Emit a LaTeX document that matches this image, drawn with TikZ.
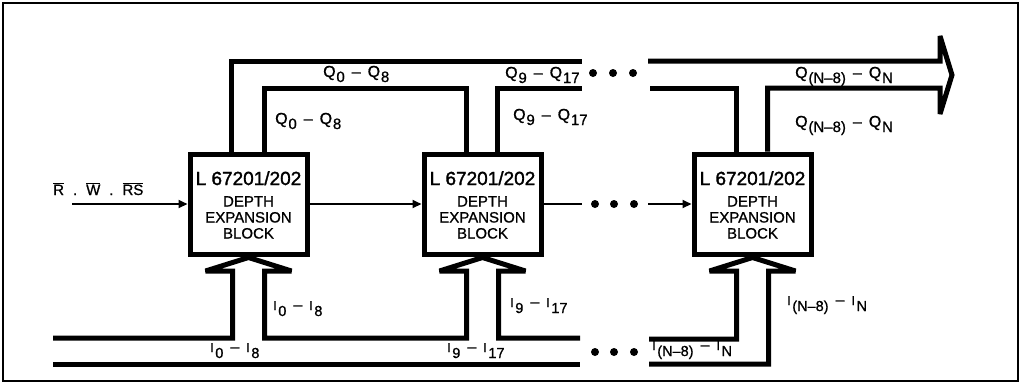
\documentclass[tikz,border=0pt]{standalone}
\usepackage{fontspec}
\setmainfont{Liberation Sans}[FakeBold=0.9]
\newfontfamily\heavy{Liberation Sans}[FakeBold=1.6]
\usetikzlibrary{arrows.meta,calc}
\newcommand\dn[1]{\kern0.8pt\raisebox{-5pt}{\fontsize{15}{15}\selectfont #1}}
\newcommand\Ii[1]{{\fontsize{13}{13}\selectfont I}\kern1.5pt\raisebox{-6pt}{\fontsize{14.5}{15}\selectfont #1}}
\newcommand\ob[1]{$\overline{\mbox{#1}}$}
\newcommand\gap{\hspace{7pt}}
\begin{document}
\begin{tikzpicture}[x=1pt,y=-1pt,
  bus/.style={line width=5pt,line join=miter,miter limit=3},
  blk/.style={draw,line width=5pt,minimum width=117pt,minimum height=100pt,inner sep=0pt},
  ttl/.style={anchor=base,font=\heavy\fontsize{19}{19}\selectfont,inner sep=0pt},
  sub/.style={anchor=base,font=\fontsize{15}{15}\selectfont,inner sep=0pt},
  lbl/.style={anchor=base west,font=\fontsize{16}{16}\selectfont,inner sep=0pt},
  sig/.style={line width=2pt,-{Triangle[length=9pt,width=8pt]}},
  sigline/.style={line width=2pt},
  dot/.style={circle,fill,inner sep=0pt,minimum size=8pt},
  chev/.style={insert path={ -- (#1-16,271) -- (#1-43,271) -- (#1,257.5) -- (#1+43,271) -- (#1+16,271)}}
]
\useasboundingbox (0,0) rectangle (1022,384);
\draw[line width=1.3pt] (3,3) rectangle (1018,381);

\def\xa{248.5}\def\xb{482.5}\def\xc{752.5}
\foreach \n/\x in {b1/\xa,b2/\xb,b3/\xc}{
  \node[blk] (\n) at (\x,204) {};
  \node[ttl] (\n-t) at (\x,185) {L 67201/202};
  \node[sub] (\n-a) at (\x,206.5) {DEPTH};
  \node[sub] (\n-b) at (\x,222.5) {EXPANSION};
  \node[sub] (\n-c) at (\x,238.5) {BLOCK};
}

% output bus (top)
\draw[bus] ([xshift=-17pt]b1.north) |- (582,61);
\draw[bus] ([xshift=16pt]b1.north) -- ++(0,-63.5) -| ([xshift=-16pt]b2.north);
\draw[bus] ([xshift=15pt]b2.north) |- (582,88);
\draw[bus] (650,88) -| ([xshift=-16pt]b3.north);
\draw[bus] (648,61) -- (940,61) -- (940,36) -- (952,75) -- (940,114) -- (940,88) -| ([xshift=15pt]b3.north);
\node[dot] (qd1) at (593,73) {};
\node[dot] (qd2) at (613,73) {};
\node[dot] (qd3) at (633,73) {};

% input bus (bottom)
\draw[bus] (53,338) -- (\xa-16,338) [chev=\xa] -- (\xa+16,338) -- (\xb-16,338) [chev=\xb] -- (\xb+16,338) -- (580,338);
\draw[bus] (53,364) -- (580,364);
\draw[bus] (649,339) -- (\xc-16,339) [chev=\xc] -- (\xc+16,364) -- (649,364);
\node[dot] (id1) at (595,352) {};
\node[dot] (id2) at (614,352) {};
\node[dot] (id3) at (634,352) {};

% control chain (middle)
\coordinate (rin) at (72,204);
\draw[sig] (rin) -- (b1.west);
\draw[sig] (b1.east) -- (b2.west);
\coordinate (mgap) at (582,204);
\coordinate (mres) at (648,204);
\draw[sigline] (b2.east) -- (mgap);
\draw[sig] (mres) -- (b3.west);
\node[dot] (md1) at (595,204) {};
\node[dot] (md2) at (614,204) {};
\node[dot] (md3) at (634,204) {};
\node[anchor=base west,font=\fontsize{15}{15}\selectfont,inner sep=0pt] (rws) at (53,195) {\ob{R}\hspace{9pt}.\hspace{9pt}\ob{W}\hspace{9pt}.\hspace{9pt}\ob{RS}};

% Q labels
\node[lbl] (q1a) at (323,77) {Q\dn{0}\gap–\gap Q\dn{8}};
\node[lbl] (q1b) at (275,124) {Q\dn{0}\gap–\gap Q\dn{8}};
\node[lbl] (q2a) at (505,78) {Q\dn{9}\gap–\gap Q\dn{17}};
\node[lbl] (q2b) at (513,120) {Q\dn{9}\gap–\gap Q\dn{17}};
\node[lbl] (q3a) at (795,78) {Q\dn{(N–8)}\gap–\gap Q\dn{N}};
\node[lbl] (q3b) at (795,127) {Q\dn{(N–8)}\gap–\gap Q\dn{N}};

% I labels
\node[lbl] (i1a) at (273,310) {\Ii{0}\gap–\gap\Ii{8}};
\node[lbl] (i1b) at (210,352) {\Ii{0}\gap–\gap\Ii{8}};
\node[lbl] (i2a) at (510,307) {\Ii{9}\gap–\gap\Ii{17}};
\node[lbl] (i2b) at (447,352) {\Ii{9}\gap–\gap\Ii{17}};
\node[lbl] (i3a) at (787,305) {\Ii{(N–8)}\gap–\gap\Ii{N}};
\node[lbl] (i3b) at (652,350) {\Ii{(N–8)}\gap–\gap\Ii{N}};
\end{tikzpicture}
\end{document}
